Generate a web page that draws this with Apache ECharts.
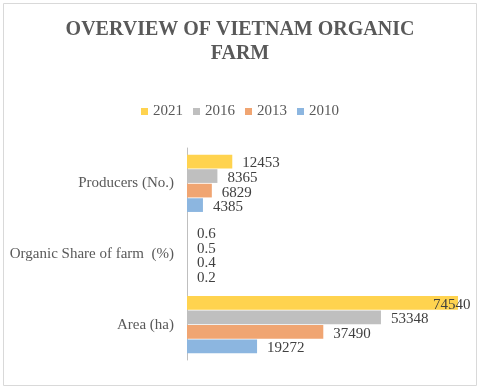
<!DOCTYPE html>
<html>
<head>
<meta charset="utf-8">
<script src="https://cdn.jsdelivr.net/npm/echarts@6/dist/echarts.min.js"></script>
<style>
  html, body { margin: 0; padding: 0; background: #fff; }
  #main { width: 480px; height: 389px; }
</style>
</head>
<body>
<div id="main"></div>
<script>
// categories, bottom to top as on the axis
const categories = ['Area (ha)', 'Organic Share of farm  (%)', 'Producers (No.)'];
// series listed top bar first (echarts puts the first series on top for horizontal bars)
const years = ['2021', '2016', '2013', '2010'];
const values2021 = [74540, 0.6, 12453];
const values2016 = [53348, 0.5, 8365];
const values2013 = [37490, 0.4, 6829];
const values2010 = [19272, 0.2, 4385];
const colors = ['#ffd34f', '#bfbfbf', '#f0a572', '#8cb6e0'];

const allValues = [values2021, values2016, values2013, values2010];
const maxValue = Math.max(...values2021);
const font = 'Liberation Serif';

const chart = echarts.init(document.getElementById('main'));

const series = years.map((year, i) => {
  return {
    name: year,
    type: 'bar',
    barGap: '6%',
    barCategoryGap: '19%',
    itemStyle: { color: colors[i] },
    label: {
      show: true,
      position: 'right',
      distance: 10,
      fontFamily: font,
      fontSize: 15,
      color: '#404040'
    },
    data: allValues[i].map((v) => {
      // the biggest label is pulled back over the bar end, like excel does
      if (v === maxValue) {
        return { value: v, label: { offset: [-35, 2] } };
      }
      return { value: v, label: { offset: [0, 2] } };
    })
  };
});

const option = {
  animation: false,
  color: colors,
  graphic: [
    {
      type: 'rect',
      shape: { x: 3.5, y: 3.5, width: 473, height: 382 },
      style: { fill: 'none', stroke: '#d9d9d9', lineWidth: 1 }
    }
  ],
  title: {
    text: 'OVERVIEW OF VIETNAM ORGANIC\nFARM',
    left: 'center',
    top: 13,
    textStyle: {
      fontFamily: font,
      fontWeight: 'bold',
      fontSize: 20,
      lineHeight: 24,
      color: '#595959'
    }
  },
  legend: {
    data: years,
    top: 99,
    left: 'center',
    itemWidth: 7,
    itemHeight: 7,
    itemGap: 10,
    icon: 'rect',
    textStyle: { fontFamily: font, fontSize: 15, color: '#595959' }
  },
  grid: {
    left: 187,
    right: 22,
    top: 148,
    bottom: 29,
    containLabel: false
  },
  xAxis: {
    type: 'value',
    min: 0,
    max: 'dataMax',
    show: false
  },
  yAxis: {
    type: 'category',
    data: categories,
    axisLine: { show: true, lineStyle: { color: '#bfbfbf', width: 1 } },
    axisTick: { show: false },
    axisLabel: {
      margin: 13,
      fontFamily: font,
      fontSize: 15,
      color: '#595959'
    }
  },
  series: series
};

chart.setOption(option);
</script>
</body>
</html>
